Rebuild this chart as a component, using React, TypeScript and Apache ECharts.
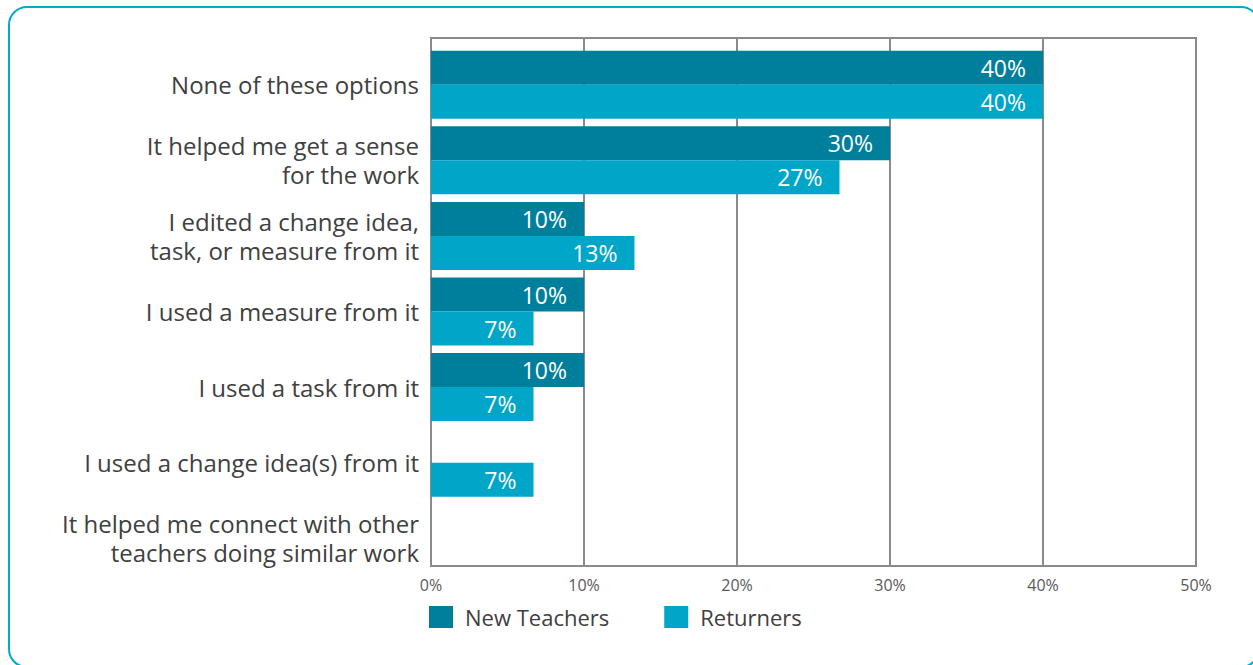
import React, { useEffect, useRef } from "react";
import * as echarts from "echarts";

const categories = [
  "None of these options",
  "It helped me get a sense\nfor the work",
  "I edited a change idea,\ntask, or measure from it",
  "I used a measure from it",
  "I used a task from it",
  "I used a change idea(s) from it",
  "It helped me connect with other\nteachers doing similar work",
];
const newTeachers = [40, 30, 10, 10, 10, 0, 0];
const returners = [40, 26.7, 13.3, 6.7, 6.7, 6.7, 0];
const seriesNames = ["New Teachers", "Returners"];
const xTicks = [0, 10, 20, 30, 40, 50];

const DARK = "#007F9C";
const LIGHT = "#00A6C7";

export default function App() {
  const ref = useRef<HTMLDivElement>(null);
  useEffect(() => {
    if (!ref.current) return;
    const chart = echarts.init(ref.current, undefined, { renderer: "svg" });
    const labelFmt = (p: any) => (p.value ? `${Math.round(p.value)}%` : "");
    const barLabel = {
      show: true,
      position: "insideRight",
      distance: 17,
      formatter: labelFmt,
      color: "#ffffff",
      fontFamily: "Open Sans",
      fontSize: 23,
    };
    chart.setOption({
      animation: false,
      backgroundColor: "#ffffff",
      graphic: [
        {
          type: "rect",
          shape: { x: 9, y: 7, width: 1250, height: 660, r: 18 },
          style: { fill: "none", stroke: "#00A9CE", lineWidth: 2 },
          silent: true,
        },
      ],
      legend: {
        left: 429,
        top: 606,
        padding: 0,
        icon: "rect",
        itemWidth: 24,
        itemHeight: 22,
        itemGap: 55,
        data: seriesNames,
        textStyle: {
          fontFamily: "Open Sans",
          fontSize: 22,
          color: "#404040",
          padding: [0, 0, 0, 7],
        },
      },
      grid: [
        {
          left: 431,
          top: 38,
          width: 765,
          height: 528,
          show: true,
          borderColor: "#8a8a8a",
          borderWidth: 2,
        },
        { left: 431, top: 47, width: 765, height: 529 },
      ],
      xAxis: [
        {
          gridIndex: 0,
          type: "value",
          min: xTicks[0],
          max: xTicks[xTicks.length - 1],
          interval: 10,
          axisLine: { show: false },
          axisTick: { show: false },
          splitLine: { show: true, lineStyle: { color: "#8a8a8a", width: 2 } },
          axisLabel: {
            formatter: "{value}%",
            fontFamily: "Liberation Sans Narrow, Open Sans",
            fontSize: 16,
            color: "#595959",
            margin: 11,
          },
        },
        {
          gridIndex: 1,
          type: "value",
          min: xTicks[0],
          max: xTicks[xTicks.length - 1],
          show: false,
        },
      ],
      yAxis: [
        { gridIndex: 0, type: "category", data: categories, show: false },
        {
          gridIndex: 1,
          type: "category",
          data: categories,
          inverse: true,
          axisLine: { show: false },
          axisTick: { show: false },
          splitLine: { show: false },
          axisLabel: {
            fontFamily: "Open Sans",
            fontSize: 24,
            color: "#404040",
            lineHeight: 29,
            margin: 12,
            align: "right",
          },
        },
      ],
      series: [
        {
          name: seriesNames[0],
          type: "bar",
          xAxisIndex: 1,
          yAxisIndex: 1,
          data: newTeachers,
          barWidth: 34,
          barGap: "0%",
          itemStyle: { color: DARK },
          label: barLabel,
        },
        {
          name: seriesNames[1],
          type: "bar",
          xAxisIndex: 1,
          yAxisIndex: 1,
          data: returners,
          barWidth: 34,
          barGap: "0%",
          itemStyle: { color: LIGHT },
          label: barLabel,
        },
      ],
    });
    return () => chart.dispose();
  }, []);
  return (
    <div
      ref={ref}
      style={{ position: "fixed", left: 0, top: 0, width: 1253, height: 665 }}
    />
  );
}
